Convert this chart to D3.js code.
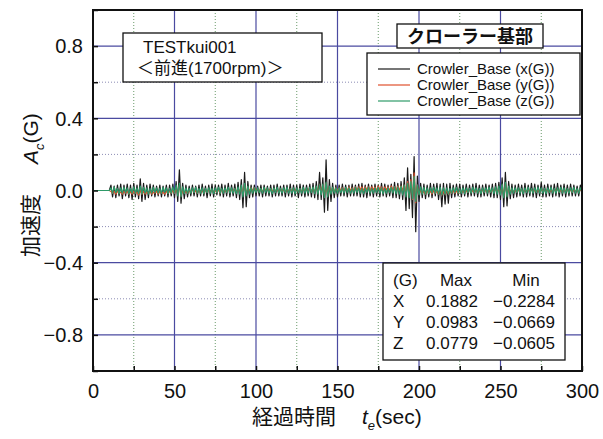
<!DOCTYPE html>
<html><head><meta charset="utf-8">
<script src="https://cdn.jsdelivr.net/npm/d3@7"></script>
<style>
body{margin:0;background:#fff}
text{font-family:"Liberation Sans",Arial,"Noto Sans CJK JP",sans-serif;fill:#111}
</style>
</head><body>
<svg id="chart" width="603" height="439"></svg>
<script>
// ---- data ----
const timeStep = 1; // seconds between samples, first sample at t = 0
const xTicks = [0, 50, 100, 150, 200, 250, 300];
const yTicks = [-0.8, -0.4, 0, 0.4, 0.8];
const seriesNames = ["Crowler_Base (x(G))", "Crowler_Base (y(G))", "Crowler_Base (z(G))"];
const seriesColors = ["#1a1a1a", "#e0502c", "#2e9a68"];
const accelX = [0,0,0,0,0,0,0,0,0,0,0,
.03,-.035,.025,-.04,.03,-.03,.035,-.045,.03,-.03,
.035,-.04,.03,-.05,.04,-.035,.03,-.045,.065,-.06,
.04,-.05,.03,-.04,.035,-.03,.03,-.035,.025,-.03,
.03,-.035,.025,-.03,.03,-.035,.03,-.03,.035,-.04,
.05,-.06,.115,-.07,.04,-.045,.03,-.035,.025,-.03,
.03,-.03,.025,-.035,.03,-.03,.035,-.03,.025,-.04,
.03,-.03,.035,-.035,.03,-.025,.03,-.03,.035,-.035,
.03,-.03,.04,-.035,.03,-.03,.035,-.04,.045,-.05,
.06,-.095,.10,-.09,.05,-.04,.03,-.035,.03,-.03,
.025,-.03,.03,-.035,.03,-.03,.025,-.03,.03,-.035,
.03,-.03,.035,-.03,.025,-.03,.03,-.035,.03,-.03,
.035,-.035,.03,-.03,.03,-.04,.035,-.03,.03,-.035,
.03,-.03,.035,-.035,.04,-.04,.05,-.05,.10,-.05,
.07,-.12,.17,-.11,.06,-.06,.04,-.04,.03,-.035,
.03,-.03,.035,-.03,.03,-.035,.03,-.03,.035,-.03,
.03,-.03,.035,-.035,.04,-.035,.03,-.04,.035,-.03,
.03,-.035,.035,-.03,.03,-.035,.04,-.03,.035,-.035,
.03,-.03,.035,-.04,.045,-.04,.04,-.045,.05,-.05,
.07,-.11,.125,-.10,.09,-.15,.1882,-.2284,.08,-.06,
.04,-.04,.035,-.045,.03,-.035,.04,-.04,.035,-.03,
.04,-.05,.035,-.09,.04,-.075,.035,-.07,.04,-.04,
.03,-.035,.035,-.03,.035,-.035,.03,-.03,.035,-.035,
.03,-.03,.035,-.03,.04,-.035,.03,-.035,.03,-.03,
.035,-.03,.03,-.035,.035,-.04,.04,-.04,.045,-.05,
.07,-.09,.10,-.085,.05,-.045,.035,-.04,.03,-.035,
.035,-.03,.03,-.035,.04,-.035,.03,-.03,.04,-.035,
.035,-.04,.03,-.03,.045,-.035,.03,-.035,.035,-.03,
.03,-.035,.035,-.03,.04,-.035,.03,-.03,.035,-.035,
.03,-.03,.035,-.03,.03,-.03,.025,-.03,.03,-.025];
const accelY = [0,0,0,0,0,0,0,0,0,0,0,
-.005,-.015,-.005,-.02,-.005,-.015,-.01,-.02,-.005,-.015,
-.005,-.02,-.008,-.02,-.005,-.015,-.01,-.025,0,-.02,
-.005,-.02,-.01,-.015,-.005,-.02,-.01,-.015,-.005,-.02,
-.005,-.015,-.01,-.02,-.005,-.015,-.005,-.015,0,-.015,
.01,-.02,.03,-.03,0,-.015,-.005,-.015,0,-.01,
.005,-.01,0,-.015,.005,-.01,0,-.015,.005,-.01,
.005,-.01,.005,-.01,0,-.01,.005,-.015,.005,-.01,
.005,-.01,.01,-.01,.005,-.005,.01,-.01,.01,-.01,
.02,-.02,.03,-.02,.02,-.005,.015,0,.015,0,
.01,-.005,.01,-.005,.01,0,.01,-.005,.01,-.005,
.01,-.005,.005,-.01,.01,-.005,.005,-.01,.01,-.005,
.01,-.005,.01,-.005,.01,-.01,.01,-.005,.01,-.005,
.01,-.005,.015,-.005,.015,-.01,.02,-.01,.03,-.01,
.03,-.03,.04,-.03,.02,-.01,.015,-.005,.015,0,
.015,0,.015,-.005,.015,0,.02,0,.015,0,
.02,0,.02,.005,.02,0,.02,.005,.02,0,
.02,.005,.02,0,.025,.005,.02,0,.02,.005,
.02,0,.025,.005,.02,0,.025,0,.025,0,
.03,-.02,.05,-.03,.06,-.05,.0983,-.0669,.03,-.02,
0,-.015,-.005,-.02,0,-.015,-.005,-.02,0,-.015,
-.005,-.02,0,-.025,-.005,-.02,0,-.02,-.005,-.015,
0,-.015,-.005,-.015,0,-.01,0,-.015,0,-.01,
.005,-.01,0,-.01,.005,-.01,0,-.01,.005,-.01,
.005,-.01,.005,-.01,.005,-.01,.01,-.01,.01,-.015,
.03,-.03,.035,-.03,.015,-.01,.01,-.01,.005,-.01,
.005,-.01,.005,-.01,.005,-.005,.01,-.01,.005,-.01,
.005,-.01,.005,-.01,.01,-.005,.005,-.01,.005,-.01,
.005,-.01,.005,-.005,.01,-.01,.005,-.01,.005,-.005,
.005,-.01,.005,-.01,.005,-.005,.005,-.01,.005,-.005];
const accelZ = [0,0,0,0,0,0,0,0,0,0,0,
.015,-.015,.02,-.012,.012,-.018,.015,-.015,.018,-.012,
.015,-.02,.012,-.015,.02,-.015,.015,-.018,.025,-.02,
.018,-.015,.015,-.02,.012,-.015,.018,-.012,.015,-.015,
.012,-.015,.018,-.012,.015,-.018,.012,-.015,.02,-.015,
.03,-.03,.04,-.035,.02,-.018,.015,-.015,.012,-.015,
.015,-.012,.018,-.015,.012,-.015,.015,-.018,.012,-.012,
.015,-.015,.012,-.018,.015,-.012,.018,-.015,.012,-.015,
.015,-.012,.018,-.015,.015,-.015,.012,-.018,.02,-.02,
.03,-.035,.04,-.03,.025,-.02,.015,-.015,.015,-.012,
.015,-.012,.012,-.015,.018,-.012,.015,-.015,.012,-.018,
.015,-.012,.018,-.015,.012,-.015,.015,-.012,.018,-.015,
.012,-.015,.015,-.018,.015,-.012,.012,-.015,.018,-.015,
.015,-.015,.018,-.012,.02,-.018,.025,-.02,.03,-.025,
.035,-.04,.045,-.035,.025,-.02,.018,-.015,.015,-.015,
.015,-.012,.012,-.015,.018,-.012,.015,-.015,.012,-.015,
.018,-.012,.015,-.015,.012,-.018,.015,-.012,.018,-.015,
.012,-.015,.015,-.012,.018,-.015,.015,-.018,.012,-.015,
.015,-.012,.018,-.015,.02,-.018,.02,-.02,.025,-.025,
.03,-.035,.04,-.04,.05,-.045,.0779,-.0605,.03,-.025,
.02,-.02,.018,-.02,.015,-.018,.015,-.015,.018,-.015,
.015,-.02,.018,-.025,.015,-.02,.015,-.02,.012,-.015,
.015,-.012,.018,-.015,.012,-.015,.015,-.018,.015,-.012,
.012,-.015,.018,-.012,.015,-.015,.012,-.018,.015,-.012,
.015,-.015,.018,-.012,.015,-.018,.02,-.02,.025,-.025,
.035,-.04,.045,-.035,.025,-.02,.015,-.015,.015,-.012,
.015,-.015,.012,-.018,.015,-.012,.018,-.015,.012,-.015,
.015,-.012,.018,-.015,.015,-.015,.012,-.018,.015,-.012,
.018,-.015,.012,-.015,.015,-.012,.018,-.015,.015,-.015,
.012,-.015,.015,-.012,.018,-.015,.012,-.015,.015,-.012];
const statsHeader = ["(G)", "Max", "Min"];
const statsAxes = ["X", "Y", "Z"];
const statsMax = ["0.1882", "0.0983", "0.0779"];
const statsMin = ["\u22120.2284", "\u22120.0669", "\u22120.0605"];
const titleLines = ["TESTkui001", "\uFF1C前進(1700rpm)\uFF1E"];
const legendTitle = "クローラー基部";

// ---- drawing ----
const svg = d3.select("#chart");
const L = 93, R = 582, T = 10, B = 371;
const x = d3.scaleLinear().domain([0, 300]).range([L, R]);
const y = d3.scaleLinear().domain([-1, 1]).range([B, T]);

// grid
const g = svg.append("g");
const minorX = d3.range(25, 300, 50), majorX = d3.range(50, 300, 50);
const minorY = [-0.6, -0.2, 0.2, 0.6], majorY = [-0.8, -0.4, 0.4, 0.8];
g.selectAll(".mx").data(minorX).join("line")
  .attr("x1", d => x(d)).attr("x2", d => x(d)).attr("y1", T).attr("y2", B)
  .attr("stroke", "#6a9a6a").attr("stroke-width", 1).attr("stroke-dasharray", "1,2");
g.selectAll(".my").data(minorY).join("line")
  .attr("x1", L).attr("x2", R).attr("y1", d => y(d)).attr("y2", d => y(d))
  .attr("stroke", "#8c8cb4").attr("stroke-width", 1).attr("stroke-dasharray", "1,2");
g.selectAll(".Mx").data(majorX).join("line")
  .attr("x1", d => x(d)).attr("x2", d => x(d)).attr("y1", T).attr("y2", B)
  .attr("stroke", "#4a4aa0").attr("stroke-width", 1.2);
g.selectAll(".My").data(majorY).join("line")
  .attr("x1", L).attr("x2", R).attr("y1", d => y(d)).attr("y2", d => y(d))
  .attr("stroke", "#4a4aa0").attr("stroke-width", 1.2);

// data lines
svg.append("clipPath").attr("id", "clip").append("rect")
  .attr("x", L).attr("y", T).attr("width", R - L).attr("height", B - T);
const line = d3.line().x((d, i) => x(i * timeStep)).y(d => y(d));
const dg = svg.append("g").attr("clip-path", "url(#clip)");
[accelX, accelY, accelZ].forEach((s, k) => {
  dg.append("path").datum(s).attr("d", line).attr("fill", "none")
    .attr("stroke", seriesColors[k]).attr("stroke-width", 1.2).attr("stroke-linejoin", "round");
});

// axes
const fmt = d3.format(".1f");
const ax = svg.append("g").attr("transform", `translate(0,${B})`)
  .call(d3.axisBottom(x).tickValues(d3.range(0, 301, 25)).tickSizeInner(-5).tickSizeOuter(0).tickPadding(13)
    .tickFormat(d => xTicks.includes(d) ? d : ""));
const ay = svg.append("g").attr("transform", `translate(${L},0)`)
  .call(d3.axisLeft(y).tickValues(d3.range(-1, 1.01, 0.2)).tickSizeInner(-5).tickSizeOuter(0).tickPadding(10)
    .tickFormat(d => yTicks.some(v => Math.abs(v - d) < 1e-6) ? fmt(d) : ""));
[ax, ay].forEach(a => {
  a.select(".domain").remove();
  a.selectAll(".tick line").attr("stroke", "#111").attr("stroke-width", 1.5);
  a.selectAll("text").attr("font-size", 20).attr("font-family", "'Liberation Sans',Arial,sans-serif").attr("fill", "#111");
});
ay.selectAll("text").attr("dy", "0.34em");

// frame
svg.append("rect").attr("x", L).attr("y", T).attr("width", R - L).attr("height", B - T)
  .attr("fill", "none").attr("stroke", "#111").attr("stroke-width", 2);

// axis titles
const xl = svg.append("text").attr("x", 252).attr("y", 424).attr("font-size", 21);
xl.append("tspan").text("経過時間");
xl.append("tspan").attr("dx", 26).attr("font-style", "italic").text("t");
xl.append("tspan").attr("font-size", 13).attr("dy", 6).attr("font-style", "italic").text("e");
xl.append("tspan").attr("dy", -6).text("(sec)");

const yl = svg.append("text").attr("transform", "translate(38,257) rotate(-90)").attr("font-size", 21);
yl.append("tspan").text("加速度");
yl.append("tspan").attr("dx", 30).attr("font-style", "italic").text("A");
yl.append("tspan").attr("font-size", 13).attr("dy", 6).attr("font-style", "italic").text("c");
yl.append("tspan").attr("dy", -6).text("(G)");

// test label box
svg.append("rect").attr("x", 123).attr("y", 33).attr("width", 199).attr("height", 49)
  .attr("fill", "#fff").attr("stroke", "#111").attr("stroke-width", 1.3);
svg.selectAll(".tl").data(titleLines).join("text")
  .attr("x", (d, i) => i === 0 ? 143 : 137).attr("y", (d, i) => 53 + i * 21)
  .attr("font-size", 17).text(d => d);

// legend title box
svg.append("rect").attr("x", 397).attr("y", 24).attr("width", 146).attr("height", 24)
  .attr("fill", "#fff").attr("stroke", "#111").attr("stroke-width", 1.3);
svg.append("text").attr("x", 470).attr("y", 43).attr("text-anchor", "middle")
  .attr("font-size", 18).attr("font-weight", "bold").attr("font-family", "'Noto Sans CJK JP',sans-serif").text(legendTitle);

// legend box
svg.append("rect").attr("x", 367).attr("y", 53).attr("width", 213).attr("height", 62)
  .attr("fill", "#fff").attr("stroke", "#111").attr("stroke-width", 1.3);
const lg = svg.selectAll(".lg").data(seriesNames).join("g")
  .attr("transform", (d, i) => `translate(0,${69 + i * 16})`);
lg.append("line").attr("x1", 378).attr("x2", 410).attr("y1", 0).attr("y2", 0)
  .attr("stroke", (d, i) => seriesColors[i]).attr("stroke-width", 1.2);
lg.append("text").attr("x", 417).attr("y", 5).attr("font-size", 15).text(d => d);

// stats box
svg.append("rect").attr("x", 383).attr("y", 263).attr("width", 182).attr("height", 97)
  .attr("fill", "#fff").attr("stroke", "#111").attr("stroke-width", 1.3);
const st = svg.append("g").attr("font-size", 17);
st.append("text").attr("x", 393).attr("y", 286).attr("font-size", 17).text(statsHeader[0]);
st.append("text").attr("x", 456).attr("y", 286).attr("font-size", 17).attr("text-anchor", "middle").text(statsHeader[1]);
st.append("text").attr("x", 526).attr("y", 286).attr("font-size", 17).attr("text-anchor", "middle").text(statsHeader[2]);
statsAxes.forEach((a, i) => {
  const yy = 307 + i * 21;
  st.append("text").attr("x", 393).attr("y", yy).attr("font-size", 17).text(a);
  st.append("text").attr("x", 478).attr("y", yy).attr("font-size", 17).attr("text-anchor", "end").text(statsMax[i]);
  st.append("text").attr("x", 555).attr("y", yy).attr("font-size", 17).attr("text-anchor", "end").text(statsMin[i]);
});
</script>
</body></html>
